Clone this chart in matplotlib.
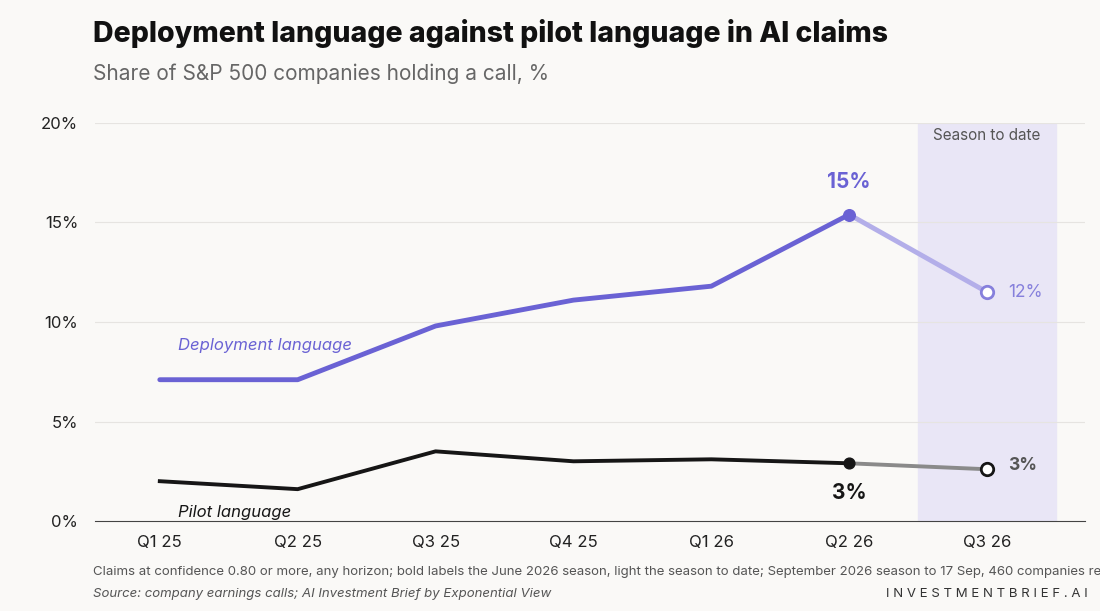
import matplotlib.pyplot as plt

quarters = ["Q1 25", "Q2 25", "Q3 25", "Q4 25", "Q1 26", "Q2 26", "Q3 26"]
deployment = [7.1, 7.1, 9.8, 11.1, 11.8, 15.4, 11.5]
pilot = [2.0, 1.6, 3.5, 3.0, 3.1, 2.9, 2.6]
yticks = [0, 5, 10, 15, 20]

BG = "#faf9f7"
PURPLE = "#6a62d4"
LIGHT_PURPLE = "#b3aee9"
BLACK = "#161616"
GREY = "#8a8a8a"

plt.rcParams['font.family'] = ['Inter', 'DejaVu Sans']

fig = plt.figure(figsize=(11, 6.11), dpi=100, facecolor=BG)
ax = fig.add_axes([95/1100, 1-521/611, 990/1100, 398/611], facecolor=BG)
x = list(range(len(quarters)))

ax.axvspan(5.5, 6.5, color="#e9e6f6", zorder=0)
ax.text(6, 19.35, "Season to date", ha="center", va="center", fontsize=11, color="#555555")

for y in yticks[1:]:
    ax.axhline(y, color="#e6e4e1", lw=0.8, zorder=1)

ax.plot(x[:6], deployment[:6], color=PURPLE, lw=3.5, zorder=3, solid_capstyle="round")
ax.plot(x[5:], deployment[5:], color=LIGHT_PURPLE, lw=3.5, zorder=3)
ax.plot(x[:6], pilot[:6], color=BLACK, lw=2.8, zorder=3)
ax.plot(x[5:], pilot[5:], color=GREY, lw=2.8, zorder=3)

ax.scatter([5], [deployment[5]], s=70, color=PURPLE, zorder=4)
ax.scatter([6], [deployment[6]], s=80, facecolor="white", edgecolor="#8680dc", lw=2, zorder=4)
ax.scatter([5], [pilot[5]], s=60, color=BLACK, zorder=4)
ax.scatter([6], [pilot[6]], s=80, facecolor="white", edgecolor=BLACK, lw=2, zorder=4)

ax.text(5, deployment[5] + 1.65, f"{deployment[5]:.0f}%", ha="center", va="center",
        fontsize=15, fontweight="bold", color=PURPLE)
ax.text(6.15, deployment[6], f"{deployment[6]:.0f}%", ha="left", va="center", fontsize=12.5, color="#8680dc")
ax.text(5, pilot[5] - 1.5, f"{pilot[5]:.0f}%", ha="center", va="center",
        fontsize=15, fontweight="bold", color=BLACK)
ax.text(6.15, pilot[6] + 0.2, f"{pilot[6]:.0f}%", ha="left", va="center", fontsize=12.5,
        fontweight="bold", color="#555555")

ax.text(0.13, 8.6, "Deployment language", fontsize=12, style="italic", color=PURPLE)
ax.text(0.13, 0.2, "Pilot language", fontsize=12, style="italic", color=BLACK)

ax.set_xlim(-0.47, 6.71)
ax.set_ylim(0, 20)
ax.set_xticks(x, quarters)
ax.set_yticks(yticks, [f"{v}%" for v in yticks])
ax.tick_params(axis="both", length=0, labelsize=12, colors="#222222")
ax.tick_params(axis="x", pad=10)
ax.tick_params(axis="y", pad=12)
for s in ["top", "right", "left"]:
    ax.spines[s].set_visible(False)
ax.spines["bottom"].set_color("#444444")

fig.text(93/1100, 1-34/611, "Deployment language against pilot language in AI claims",
         fontsize=20.5, fontweight="heavy", color="#111111", va="center")
fig.text(93/1100, 1-74/611, "Share of S&P 500 companies holding a call, %",
         fontsize=15, color="#666666", va="center")
fig.text(93/1100, 1-572/611,
         "Claims at confidence 0.80 or more, any horizon; bold labels the June 2026 season, light the season to date; "
         "September 2026 season to 17 Sep, 460 companies reported",
         fontsize=9.5, color="#555555", va="center")
fig.text(93/1100, 1-594/611, "Source: company earnings calls; AI Investment Brief by Exponential View",
         fontsize=9.5, style="italic", color="#555555", va="center")
fig.text(1088/1100, 1-594/611, " ".join("INVESTMENTBRIEF.AI"), fontsize=9.5, color="#333333",
         ha="right", va="center")

fig.savefig("out.png", dpi=100, facecolor=BG)
